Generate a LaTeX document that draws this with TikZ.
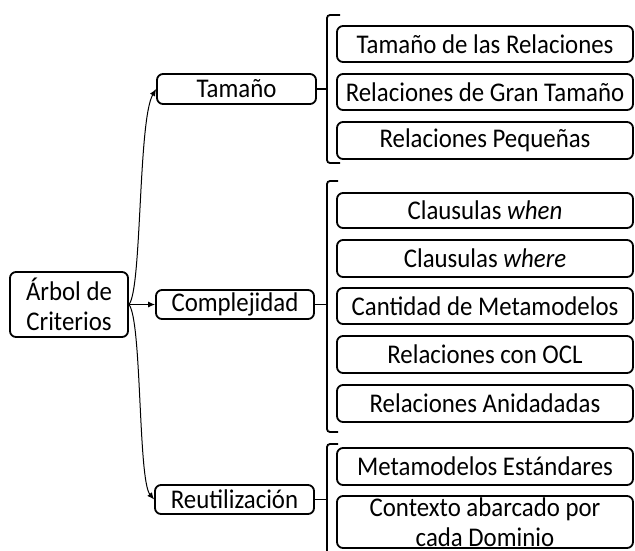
\documentclass[tikz,border=0pt]{standalone}
\usepackage{fontspec}
\setmainfont[FakeStretch=0.92]{Carlito}
\usetikzlibrary{arrows.meta}
\begin{document}
\begin{tikzpicture}[x=1pt,y=-1pt,
 box/.style={draw, line width=1.8pt, rounded corners=6pt, inner sep=0pt, align=center, font=\fontsize{27}{30}\selectfont},
 sub/.style={box, minimum width=296pt},
 conn/.style={line width=1pt, -{Latex[length=7pt,width=6pt]}},
 brk/.style={line width=1.8pt, rounded corners=3pt}]
\useasboundingbox (0,0) rectangle (635,550);
% main nodes
\node[box, minimum width=118pt, minimum height=65pt] (root) at (69,304.5) {Árbol de\\Criterios};
\node[box, minimum width=159pt, minimum height=30pt] (tam) at (236.5,89) {Tamaño};
\node[box, minimum width=158pt, minimum height=29pt] (comp) at (235,304.5) {Complejidad};
\node[box, minimum width=159pt, minimum height=29pt] (reu) at (234.5,499.5) {Reutilización};
% sub nodes
\node[sub, minimum height=36pt] (t1) at (485,44) {Tamaño de las Relaciones};
\node[sub, minimum height=36pt] (t2) at (485,92) {Relaciones de Gran Tamaño};
\node[sub, minimum height=37pt] (t3) at (485,140.5) {Relaciones Pequeñas};
\node[sub, minimum height=35pt] (c1) at (485,210.5) {Clausulas \textit{when}};
\node[sub, minimum height=37pt] (c2) at (485,258.5) {Clausulas \textit{where}};
\node[sub, minimum height=36pt] (c3) at (485,306) {Cantidad de Metamodelos};
\node[sub, minimum height=37pt] (c4) at (485,354.5) {Relaciones con OCL};
\node[sub, minimum height=37pt] (c5) at (485,403.5) {Relaciones Anidadadas};
\node[sub, minimum height=37pt] (r1) at (485,466.5) {Metamodelos Estándares};
\node[sub, minimum height=52pt] (r2) at (485,522) {Contexto abarcado por\\cada Dominio};
% brackets
\coordinate (b1a) at (340,15);  \coordinate (b1b) at (327,15);
\coordinate (b1c) at (327,163); \coordinate (b1d) at (340,163);
\coordinate (b2a) at (338,181); \coordinate (b2b) at (327,181);
\coordinate (b2c) at (327,432); \coordinate (b2d) at (338,432);
\coordinate (b3a) at (338,444); \coordinate (b3b) at (327,444);
\coordinate (b3c) at (327,560);
\draw[brk] (b1a) -- (b1b) -- (b1c) -- (b1d);
\draw[brk] (b2a) -- (b2b) -- (b2c) -- (b2d);
\draw[brk] (b3a) -- (b3b) -- (b3c);
\draw[line width=1.8pt] (tam.east) -- (tam.east -| b1b);
\draw[line width=1.8pt] (comp.east) -- (comp.east -| b2b);
\draw[line width=1.8pt] (reu.east) -- (reu.east -| b3b);
% connectors
\draw[conn] (root.east) .. controls (142,290) and (138,120) .. (tam.west);
\draw[conn] (root.east) -- (comp.west);
\draw[conn] (root.east) .. controls (142,320) and (138,480) .. (reu.west);
\end{tikzpicture}
\end{document}
